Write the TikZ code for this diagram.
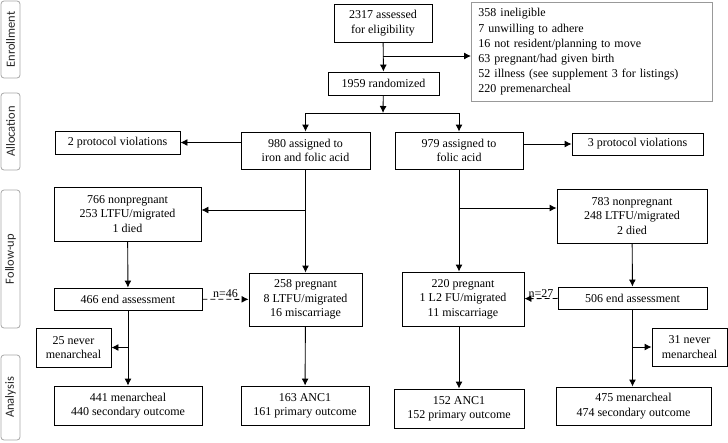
\documentclass[tikz,border=0pt]{standalone}
\usepackage{fontspec}
\setmainfont{Liberation Serif}
\newfontfamily\tabfont{Carlito}
\usetikzlibrary{arrows.meta}

\begin{document}
\begin{tikzpicture}[x=1pt,y=-1pt,
    box/.style={draw,rectangle,inner sep=0pt,align=center,line width=0.9pt,font=\fontsize{12}{14.3}\selectfont},
    tab/.style={draw=gray!70,rounded corners=3pt,line width=0.8pt,rotate=90,minimum height=19,inner sep=0pt,font=\tabfont\fontsize{12.5}{14}\selectfont,text=black!85},
    arr/.style={-{Latex[length=7pt,width=7pt]},line width=0.9pt}]
                \useasboundingbox (0,0) rectangle (728,442);

                % side tabs
                \node[tab,minimum width=77] (tEnr) at (10.5,39.5) {Enrollment};
                \node[tab,minimum width=77] (tAll) at (10.5,131.5) {Allocation};
                \node[tab,minimum width=138] (tFol) at (10.5,259) {Follow-up};
                \node[tab,minimum width=85] (tAna) at (10.5,397.5) {Analysis};

                \node[box,minimum width=98,minimum height=38] (asd) at (383,23) {2317 assessed\\for eligibility};
                \node[box,draw=gray!80,anchor=north west,inner xsep=7pt,text width=227,minimum height=99,align=left,font=\fontsize{12}{15.2}\selectfont] (excl) at (471,2) {358 ineligible\\7 unwilling to adhere\\16 not resident/planning to move\\63 pregnant/had given birth\\52 illness (see supplement 3 for listings)\\220 premenarcheal};
                \node[box,minimum width=111,minimum height=23] (rnd) at (383.5,83.5) {1959 randomized};

                \node[box,minimum width=129,minimum height=37] (ifa) at (305.5,150.5) {980 assigned to\\iron and folic acid};
                \node[box,minimum width=128,minimum height=37] (fa) at (459,150.5) {979 assigned to\\folic acid};
                \node[box,minimum width=125,minimum height=23] (pv1) at (117.5,142.5) {2 protocol violations};
                \node[box,minimum width=131,minimum height=22] (pv2) at (637.5,144) {3 protocol violations};

                % iron and folic acid arm
                \node[box,minimum width=147,minimum height=54] (np1) at (127.5,214) {766 nonpregnant\\253 LTFU/migrated\\1 died};
                \node[box,minimum width=113,minimum height=53] (pg1) at (305.5,299.5) {258 pregnant\\8 LTFU/migrated\\16 miscarriage};
                \node[box,minimum width=148,minimum height=22] (ea1) at (128,299) {466 end assessment};
                \node[box,minimum width=75,minimum height=39] (nm1) at (73.5,347.5) {25 never\\menarcheal};
                \node[box,minimum width=148,minimum height=39] (mn1) at (128,405.5) {441 menarcheal\\440 secondary outcome};
                \node[box,minimum width=128,minimum height=39] (anc1) at (305,405.5) {163 ANC1\\161 primary outcome};

                % folic acid arm
                \node[box,minimum width=150,minimum height=54] (np2) at (632,216) {783 nonpregnant\\248 LTFU/migrated\\2 died};
                \node[box,minimum width=122,minimum height=54] (pg2) at (463,299) {220 pregnant\\1 L2 FU/migrated\\11 miscarriage};
                \node[box,minimum width=149,minimum height=22] (ea2) at (632.5,298) {506 end assessment};
                \node[box,minimum width=75,minimum height=38] (nm2) at (689.5,347) {31 never\\menarcheal};
                \node[box,minimum width=155,minimum height=38] (mn2) at (633.5,406) {475 menarcheal\\474 secondary outcome};
                \node[box,minimum width=130,minimum height=39] (anc2) at (459,408.5) {152 ANC1\\152 primary outcome};

                \coordinate (j1) at (383,56);
                \coordinate (sp) at (383,113);
                \coordinate (b1) at (305.5,210);
                \coordinate (b2) at (459,208);

                \draw[arr] (asd) -- (rnd);
                \draw[arr] (j1) -- (j1 -| excl.west);
                \draw[arr] (rnd) -- (sp);
                \draw[line width=0.9pt] (sp -| ifa) -- (sp -| fa);
                \draw[arr] (sp -| ifa) -- (ifa);
                \draw[arr] (sp -| fa) -- (fa);
                \draw[arr] (ifa.west |- pv1) -- (pv1);
                \draw[arr] (fa.east |- pv2) -- (pv2);

                \draw[arr] (ifa) -- (pg1);
                \draw[arr] (b1) -- (b1 -| np1.east);
                \draw[arr] (fa) -- (fa |- pg2.north);
                \draw[arr] (b2) -- (b2 -| np2.west);

                \draw[arr] (np1) -- (ea1);
                \draw[arr] (np2) -- (ea2);
                \draw[arr,dash pattern=on 5pt off 3pt] (ea1) -- node[above,inner sep=1pt,font=\fontsize{12}{14}\selectfont] {n=46} (pg1);
                \draw[arr,dash pattern=on 5pt off 3pt] (ea2) -- node[above,inner sep=1pt,font=\fontsize{12}{14}\selectfont] {n=27} (pg2);

                \draw[arr] (ea1) -- (mn1);
                \draw[arr] (ea1 |- nm1) -- (nm1);
                \draw[arr] (ea2) -- (ea2 |- mn2.north);
                \draw[arr] (ea2 |- nm2) -- (nm2);
                \draw[arr] (pg1) -- (anc1);
                \draw[arr] (pg2.south -| anc2) -- (anc2);
            \end{tikzpicture}
\end{document}
